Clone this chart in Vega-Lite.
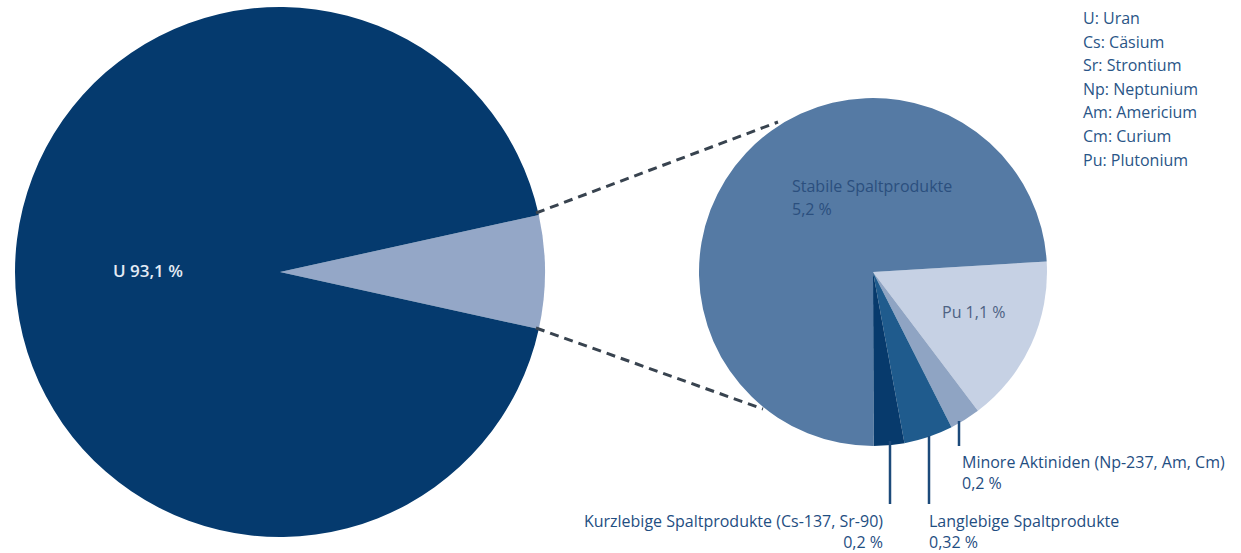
{
  "$schema": "https://vega.github.io/schema/vega-lite/v6.json",
  "width": 1241,
  "height": 553,
  "padding": 0,
  "autosize": {"type": "fit", "contains": "padding"},
  "background": "white",
  "config": {"view": {"stroke": null}, "text": {"font": "Open Sans", "fontSize": 16, "fontWeight": 500}},
  "datasets": {
    "gesamt": [
      {"kategorie": "Übrige", "kurz": "Rest", "anteil": 6.9, "nr": 1, "wert": "6,9 %"},
      {"kategorie": "Uran", "kurz": "U", "anteil": 93.1, "nr": 2, "wert": "93,1 %"}
    ],
    "detail": [
      {"kategorie": "Plutonium", "name": "Pu", "anteil": 1.1, "nr": 1, "wert": "1,1 %"},
      {"kategorie": "Minore Aktiniden", "name": "Minore Aktiniden (Np-237, Am, Cm)", "anteil": 0.2, "nr": 2, "wert": "0,2 %"},
      {"kategorie": "Langlebige Spaltprodukte", "name": "Langlebige Spaltprodukte", "anteil": 0.32, "nr": 3, "wert": "0,32 %"},
      {"kategorie": "Kurzlebige Spaltprodukte", "name": "Kurzlebige Spaltprodukte (Cs-137, Sr-90)", "anteil": 0.2, "nr": 4, "wert": "0,2 %"},
      {"kategorie": "Stabile Spaltprodukte", "name": "Stabile Spaltprodukte", "anteil": 5.2, "nr": 5, "wert": "5,2 %"}
    ]
  },
  "layer": [
    {
      "data": {"name": "gesamt"},
      "mark": {"type": "arc", "outerRadius": 265},
      "encoding": {
        "x": {"datum": 280, "type": "quantitative", "scale": {"domain": [0, 1241], "nice": false, "zero": false}, "axis": null},
        "y": {"datum": 272, "type": "quantitative", "scale": {"domain": [0, 553], "nice": false, "zero": false, "reverse": true}, "axis": null},
        "theta": {"field": "anteil", "type": "quantitative", "stack": true, "scale": {"range": [1.35403, 7.63722]}},
        "order": {"field": "nr", "type": "quantitative"},
        "color": {"field": "kategorie", "type": "nominal", "legend": null, "scale": {"domain": ["Übrige", "Uran"], "range": ["#94a7c7", "#053a6e"]}}
      }
    },
    {
      "data": {"name": "detail"},
      "mark": {"type": "arc", "outerRadius": 174},
      "encoding": {
        "x": {"datum": 873, "type": "quantitative"},
        "y": {"datum": 272, "type": "quantitative"},
        "theta": {"field": "anteil", "type": "quantitative", "stack": true, "scale": {"range": [1.50971, 7.7929]}},
        "order": {"field": "nr", "type": "quantitative"},
        "color": {"field": "kategorie", "type": "nominal", "legend": null, "scale": {"domain": ["Plutonium", "Minore Aktiniden", "Langlebige Spaltprodukte", "Kurzlebige Spaltprodukte", "Stabile Spaltprodukte"], "range": ["#c6d1e4", "#8fa4c3", "#1f5b8d", "#073a6c", "#557aa4"]}}
      }
    },
    {
      "data": {"values": [{}]},
      "mark": {"type": "rule", "stroke": "#38434f", "strokeWidth": 3, "strokeDash": [9, 6]},
      "encoding": {"x": {"datum": 536}, "y": {"datum": 213}, "x2": {"datum": 778}, "y2": {"datum": 122}}
    },
    {
      "data": {"values": [{}]},
      "mark": {"type": "rule", "stroke": "#38434f", "strokeWidth": 3, "strokeDash": [9, 6]},
      "encoding": {"x": {"datum": 536}, "y": {"datum": 328}, "x2": {"datum": 763}, "y2": {"datum": 409}}
    },
    {
      "data": {"values": [{}]},
      "mark": {"type": "rule", "stroke": "#1c4a7a", "strokeWidth": 2.5},
      "encoding": {"x": {"datum": 890}, "y": {"datum": 441}, "x2": {"datum": 890}, "y2": {"datum": 504}}
    },
    {
      "data": {"values": [{}]},
      "mark": {"type": "rule", "stroke": "#1c4a7a", "strokeWidth": 2.5},
      "encoding": {"x": {"datum": 929}, "y": {"datum": 436}, "x2": {"datum": 929}, "y2": {"datum": 504}}
    },
    {
      "data": {"values": [{}]},
      "mark": {"type": "rule", "stroke": "#1c4a7a", "strokeWidth": 2.5},
      "encoding": {"x": {"datum": 959}, "y": {"datum": 421}, "x2": {"datum": 959}, "y2": {"datum": 446}}
    },
    {
      "data": {"name": "gesamt"},
      "transform": [{"filter": "datum.kurz == 'U'"}, {"calculate": "datum.kurz + ' ' + datum.wert", "as": "label"}],
      "mark": {"type": "text", "align": "left", "baseline": "alphabetic", "fill": "#e3eaf4", "fontSize": 17, "fontWeight": 600},
      "encoding": {"x": {"datum": 113}, "y": {"datum": 277}, "text": {"field": "label"}}
    },
    {
      "data": {"name": "detail"},
      "transform": [{"filter": "datum.nr == 5"}, {"calculate": "datum.name + '\\n' + datum.wert", "as": "label"}],
      "mark": {"type": "text", "align": "left", "baseline": "alphabetic", "fill": "#2b4f7e", "lineBreak": "\n", "lineHeight": 23},
      "encoding": {"x": {"datum": 792}, "y": {"datum": 192}, "text": {"field": "label"}}
    },
    {
      "data": {"name": "detail"},
      "transform": [{"filter": "datum.nr == 1"}, {"calculate": "datum.name + ' ' + datum.wert", "as": "label"}],
      "mark": {"type": "text", "align": "left", "baseline": "alphabetic", "fill": "#4d6283"},
      "encoding": {"x": {"datum": 942}, "y": {"datum": 318}, "text": {"field": "label"}}
    },
    {
      "data": {"name": "detail"},
      "transform": [{"filter": "datum.nr == 2"}, {"calculate": "datum.name + '\\n' + datum.wert", "as": "label"}],
      "mark": {"type": "text", "align": "left", "baseline": "alphabetic", "fill": "#1f4e82", "lineBreak": "\n", "lineHeight": 21},
      "encoding": {"x": {"datum": 962}, "y": {"datum": 468}, "text": {"field": "label"}}
    },
    {
      "data": {"name": "detail"},
      "transform": [{"filter": "datum.nr == 3"}, {"calculate": "datum.name + '\\n' + datum.wert", "as": "label"}],
      "mark": {"type": "text", "align": "left", "baseline": "alphabetic", "fill": "#1f4e82", "lineBreak": "\n", "lineHeight": 21},
      "encoding": {"x": {"datum": 929}, "y": {"datum": 527}, "text": {"field": "label"}}
    },
    {
      "data": {"name": "detail"},
      "transform": [{"filter": "datum.nr == 4"}, {"calculate": "datum.name + '\\n' + datum.wert", "as": "label"}],
      "mark": {"type": "text", "align": "right", "baseline": "alphabetic", "fill": "#1f4e82", "lineBreak": "\n", "lineHeight": 21},
      "encoding": {"x": {"datum": 883}, "y": {"datum": 527}, "text": {"field": "label"}}
    },
    {
      "data": {"values": [{}]},
      "mark": {"type": "text", "align": "left", "baseline": "alphabetic", "fill": "#2a5587", "lineHeight": 23.6},
      "encoding": {
        "x": {"datum": 1083},
        "y": {"datum": 24},
        "text": {"value": ["U: Uran", "Cs: Cäsium", "Sr: Strontium", "Np: Neptunium", "Am: Americium", "Cm: Curium", "Pu: Plutonium"]}
      }
    }
  ],
  "resolve": {"scale": {"theta": "independent", "color": "independent"}}
}
